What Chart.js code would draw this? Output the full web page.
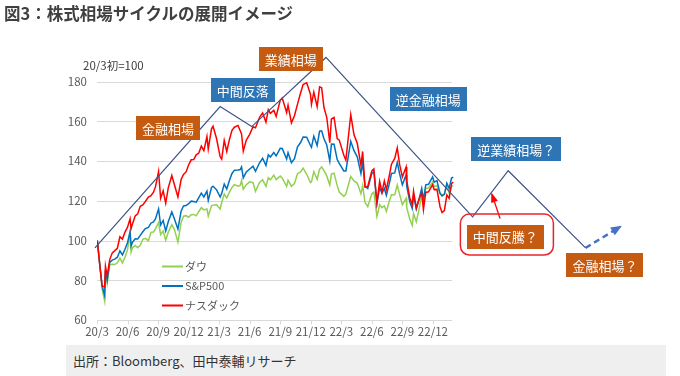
<!DOCTYPE html>
<html lang="ja">
<head>
<meta charset="utf-8">
<script src="https://cdn.jsdelivr.net/npm/chart.js@4.4.0/dist/chart.umd.min.js"></script>
<style>
    body { margin: 0; background: #fff; }
    #wrap { position: relative; width: 680px; height: 376px; overflow: hidden; font-family: "Noto Sans CJK JP", sans-serif; }
    #title { position: absolute; left: 4px; top: 1px; font-size: 16.5px; font-weight: bold; color: #404040; white-space: nowrap; }
    #chart { position: absolute; left: 0; top: 0; }
    #source { position: absolute; left: 66px; top: 345px; width: 600px; height: 31px; background: #efefef; box-sizing: border-box; padding-left: 7px; font-size: 13px; line-height: 31px; color: #333; }
</style>
</head>
<body>
<div id="wrap">
    <canvas id="chart" width="680" height="345"></canvas>
    <div id="title">図3：株式相場サイクルの展開イメージ</div>
    <div id="source">出所：Bloomberg、田中泰輔リサーチ</div>
</div>
<script>
// 横軸：20/3初からの経過月
const months = [0.03, 0.25, 0.5, 0.75, 0.83, 1.0, 1.25, 1.5, 1.75, 2.0, 2.25, 2.5, 2.75, 3.0, 3.25, 3.35, 3.5, 3.75,
    4.0, 4.25, 4.5, 4.75, 5.05, 5.3, 5.55, 5.75, 6.05, 6.25, 6.5, 6.75, 7.0, 7.35, 7.6, 7.95, 8.27, 8.5, 8.75,
    9.0, 9.25, 9.5, 9.75, 10.0, 10.25, 10.5, 10.8, 10.93, 11.25, 11.4, 11.75, 12.1, 12.25, 12.5, 12.75,
    13.0, 13.25, 13.5, 13.85, 14.07, 14.2, 14.37, 14.67, 15.0, 15.33, 15.57, 15.97, 16.27, 16.6, 16.83,
    17.03, 17.37, 17.6, 18.0, 18.2, 18.63, 18.77, 19.1, 19.4, 19.7, 20.0, 20.25, 20.6, 20.97, 21.07, 21.3,
    21.63, 21.87, 22.07, 22.3, 22.57, 22.87, 23.03, 23.29, 23.6, 23.8, 24.25, 24.45, 24.93, 25.25, 25.57,
    25.93, 26.1, 26.33, 26.6, 27.0, 27.2, 27.5, 27.77, 28.0, 28.23, 28.43, 28.7, 28.93, 29.25, 29.5, 29.73,
    30.0, 30.37, 30.43, 30.73, 30.97, 31.1, 31.37, 31.67, 31.9, 32.07, 32.3, 32.57, 32.97, 33.13, 33.4,
    33.7, 33.9, 34.13, 34.37, 34.6, 34.83, 35.0];

const dow = [100, 89.3, 75.6, 69.6, 84.5, 78.4, 87.8, 88.0, 87.9, 88.8, 91.1, 88.7, 91.6, 95.4, 103.3, 94.1, 96.5, 97.5,
    96.4, 97.6, 100.6, 101.1, 99.9, 104.1, 104.3, 106.0, 109.0, 103.0, 104.8, 100.2, 104.2, 108.0, 105.6, 99.2, 109.2, 112.2, 112.5,
    111.7, 113.0, 113.1, 112.4, 114.6, 116.5, 115.4, 115.9, 112.3, 117.5, 117.8, 118.0, 115.8, 119.1, 123.4, 121.4,
    124.2, 126.6, 128.1, 127.3, 127.7, 130.2, 125.8, 128.1, 129.5, 129.1, 124.7, 129.2, 130.6, 127.2, 131.6,
    130.5, 132.9, 130.7, 132.4, 131.4, 127.2, 130.3, 127.3, 128.7, 133.6, 134.5, 136.4, 133.3, 129.1, 129.5, 134.7,
    130.8, 135.9, 137.0, 135.1, 132.5, 127.9, 133.4, 133.9, 127.6, 124.4, 122.2, 123.4, 132.2, 130.0, 128.9,
    123.5, 127.6, 119.2, 117.0, 123.5, 124.3, 112.1, 118.0, 116.5, 117.4, 114.7, 119.5, 123.0, 123.0, 127.9, 123.2,
    118.0, 121.3, 116.5, 110.8, 107.6, 113.5, 109.4, 116.4, 123.1, 119.8, 126.3, 126.4, 129.5, 127.1, 127.7,
    123.7, 123.1, 123.3, 128.0, 123.7, 127.1, 127.6];

const sp500 = [100, 88.9, 77.2, 72.4, 85.1, 79.9, 89.0, 90.1, 90.6, 91.6, 94.8, 92.7, 95.6, 98.9, 104.6, 97.2, 99.2, 100.9,
    100.8, 102.6, 104.4, 106.0, 106.6, 108.7, 109.4, 111.0, 115.9, 107.8, 110.1, 104.8, 109.4, 114.4, 110.9, 105.8, 114.9, 117.4, 117.6,
    118.5, 119.8, 119.6, 119.3, 121.6, 123.8, 121.9, 124.8, 120.2, 126.7, 127.3, 125.5, 121.9, 123.7, 128.4, 125.9,
    130.1, 133.6, 135.4, 135.5, 135.7, 137.0, 131.5, 134.5, 136.0, 137.4, 134.8, 139.1, 141.4, 137.8, 143.1,
    142.0, 144.3, 142.6, 146.4, 146.3, 141.0, 144.2, 139.2, 141.2, 147.1, 149.3, 152.1, 152.0, 147.8, 146.9, 152.5,
    147.8, 155.0, 155.2, 151.2, 148.1, 140.0, 148.5, 148.4, 140.7, 138.8, 135.0, 135.0, 149.9, 145.2, 142.1,
    133.7, 139.2, 127.3, 126.2, 133.7, 134.6, 118.7, 126.6, 123.8, 126.2, 122.7, 128.2, 133.7, 134.0, 139.3, 133.6,
    128.0, 133.0, 127.3, 119.5, 116.1, 122.7, 115.8, 121.4, 126.2, 120.4, 128.0, 128.3, 132.0, 129.4, 130.1,
    123.7, 122.4, 123.2, 128.9, 126.2, 131.4, 131.9];

const nasdaq = [100, 88.8, 77.1, 76.6, 87.1, 82.2, 90.4, 93.8, 94.9, 96.1, 101.9, 100.7, 104.2, 106.7, 110.9, 106.0, 108.6, 112.3,
    113.4, 117.2, 117.9, 119.6, 121.8, 122.5, 124.3, 127.1, 134.7, 121.2, 125.0, 118.8, 126.5, 132.7, 128.2, 121.9, 130.8, 133.2, 134.5,
    138.0, 140.6, 140.7, 143.1, 144.0, 147.5, 145.2, 152.3, 146.0, 156.2, 157.5, 151.2, 142.1, 140.9, 150.4, 144.8,
    150.6, 155.3, 157.0, 157.9, 155.2, 153.6, 144.9, 150.5, 153.4, 157.2, 156.7, 162.0, 164.2, 159.5, 165.8,
    164.0, 165.5, 162.4, 170.5, 171.7, 164.4, 168.1, 159.2, 162.8, 168.6, 174.2, 178.5, 179.4, 173.6, 168.5, 174.6,
    167.3, 177.3, 176.9, 166.9, 162.0, 149.2, 161.1, 161.9, 151.3, 150.5, 142.9, 140.5, 163.3, 153.2, 148.9,
    137.8, 144.8, 126.9, 127.2, 135.0, 136.0, 118.9, 129.7, 124.3, 130.0, 125.6, 132.2, 138.4, 141.3, 146.6, 138.3,
    132.0, 137.0, 130.0, 121.4, 118.1, 124.8, 116.4, 121.3, 124.0, 115.5, 124.2, 124.5, 128.1, 125.6, 125.7,
    117.0, 114.1, 115.1, 122.9, 121.2, 128.6, 129.4];

const xTickValues = [0, 3, 6, 9, 12, 15, 18, 21, 24, 27, 30, 33];
const xTickLabels = ['20/3', '20/6', '20/9', '20/12', '21/3', '21/6', '21/9', '21/12', '22/3', '22/6', '22/9', '22/12'];
const yTickValues = [60, 80, 100, 120, 140, 160, 180];

// 相場サイクルのイメージ線
const cycleX = [-0.2, 12.1, 15.2, 22.5, 36.9, 40.4, 48.0];
const cycleY = [96.3, 167.4, 157.3, 192.1, 111.9, 135.1, 96.3];
const nextX = [48.0, 51.4];
const nextY = [96.3, 106.9];
const arrowX = [39.6, 38.8];
const arrowY = [111.1, 123.2];

// 吹き出しラベル
const boxLabels = ['金融相場', '中間反落', '業績相場', '逆金融相場', '逆業績相場？', '中間反騰？', '金融相場？'];
const boxX = [6.98, 14.31, 19.03, 32.55, 41.2, 40.12, 49.9];
const boxY = [156.4, 175.7, 191.1, 171.4, 145.8, 102.0, 87.7];
const boxKind = ['orange', 'blue', 'orange', 'blue', 'blue', 'orange', 'orange'];

const FONT = '"Noto Sans CJK JP", sans-serif';
Chart.defaults.font.family = FONT;

function toPoints(xs, ys) {
    return xs.map((v, i) => ({ x: v, y: ys[i] }));
}

// 矢印の先端
function drawHead(ctx, x0, y0, x1, y1, len, wid, color) {
    const a = Math.atan2(y1 - y0, x1 - x0);
    ctx.save();
    ctx.translate(x1, y1);
    ctx.rotate(a);
    ctx.fillStyle = color;
    ctx.beginPath();
    ctx.moveTo(2, 0);
    ctx.lineTo(-len, -wid / 2);
    ctx.lineTo(-len, wid / 2);
    ctx.closePath();
    ctx.fill();
    ctx.restore();
}

function roundRectPath(ctx, x, y, w, h, r) {
    ctx.beginPath();
    ctx.moveTo(x + r, y);
    ctx.arcTo(x + w, y, x + w, y + h, r);
    ctx.arcTo(x + w, y + h, x, y + h, r);
    ctx.arcTo(x, y + h, x, y, r);
    ctx.arcTo(x, y, x + w, y, r);
    ctx.closePath();
}

// 罫線（データ期間だけに引く）
const gridPlugin = {
    id: 'gridLines',
    beforeDatasetsDraw(chart) {
        const { ctx, scales: { x, y } } = chart;
        const left = x.getPixelForValue(0);
        const right = x.getPixelForValue(34.9);
        ctx.save();
        ctx.strokeStyle = '#d9d9d9';
        ctx.lineWidth = 1;
        yTickValues.forEach(v => {
            const py = Math.round(y.getPixelForValue(v)) + 0.5;
            ctx.beginPath();
            ctx.moveTo(left, py);
            ctx.lineTo(right, py);
            ctx.stroke();
        });
        const base = Math.round(y.getPixelForValue(60)) + 0.5;
        xTickValues.forEach(v => {
            const px = Math.round(x.getPixelForValue(v)) + 0.5;
            ctx.beginPath();
            ctx.moveTo(px, base);
            ctx.lineTo(px, base + 4);
            ctx.stroke();
        });
        ctx.restore();
    }
};

const overlayPlugin = {
    id: 'overlay',
    afterDatasetsDraw(chart) {
        const { ctx, scales: { x, y } } = chart;
        ctx.save();

        // 単位
        ctx.fillStyle = '#404040';
        ctx.font = '11.5px ' + FONT;
        ctx.textAlign = 'left';
        ctx.textBaseline = 'middle';
        ctx.fillText('20/3初=100', chart.chartArea.left - 14, y.getPixelForValue(180) - 16);

        // 凡例
        const legendRows = [
            { text: 'ダウ', color: '#92d050' },
            { text: 'S&P500', color: '#0070c0' },
            { text: 'ナスダック', color: '#ff0000' }
        ];
        ctx.font = '11px ' + FONT;
        legendRows.forEach((row, i) => {
            const ly = 266.5 + i * 19.5;
            ctx.strokeStyle = row.color;
            ctx.lineWidth = 2;
            ctx.beginPath();
            ctx.moveTo(162, ly);
            ctx.lineTo(183, ly);
            ctx.stroke();
            ctx.fillStyle = '#595959';
            ctx.fillText(row.text, 185, ly);
        });

        // 矢印の先
        const n0x = x.getPixelForValue(nextX[0]), n0y = y.getPixelForValue(nextY[0]);
        const n1x = x.getPixelForValue(nextX[1]), n1y = y.getPixelForValue(nextY[1]);
        drawHead(ctx, n0x, n0y, n1x, n1y, 9, 9, '#4472c4');
        const a0x = x.getPixelForValue(arrowX[0]), a0y = y.getPixelForValue(arrowY[0]);
        const a1x = x.getPixelForValue(arrowX[1]), a1y = y.getPixelForValue(arrowY[1]);
        drawHead(ctx, a0x, a0y, a1x, a1y, 8, 7, '#ff0000');

        // 中間反騰？の赤枠
        const fx = x.getPixelForValue(40.27), fy = y.getPixelForValue(103.0);
        ctx.strokeStyle = '#e8242b';
        ctx.lineWidth = 1.5;
        roundRectPath(ctx, fx - 46.5, fy - 20.5, 93, 41, 9);
        ctx.stroke();

        // ラベルの箱
        ctx.font = '13px ' + FONT;
        ctx.textAlign = 'center';
        boxLabels.forEach((label, i) => {
            const cx = x.getPixelForValue(boxX[i]);
            const cy = y.getPixelForValue(boxY[i]);
            const w = ctx.measureText(label).width + 12;
            const h = 24;
            ctx.fillStyle = boxKind[i] === 'orange' ? '#c55a11' : '#2e75b6';
            ctx.fillRect(Math.round(cx - w / 2), Math.round(cy - h / 2), Math.round(w), h);
            ctx.fillStyle = '#ffffff';
            ctx.fillText(label, cx, cy + 1);
        });

        ctx.restore();
    }
};

new Chart(document.getElementById('chart'), {
    type: 'line',
    data: {
        datasets: [
            { label: 'ナスダック', data: toPoints(months, nasdaq), borderColor: '#ff0000', borderWidth: 1.5, order: 1 },
            { label: 'S&P500', data: toPoints(months, sp500), borderColor: '#0070c0', borderWidth: 1.5, order: 2 },
            { label: 'ダウ', data: toPoints(months, dow), borderColor: '#92d050', borderWidth: 1.5, order: 3 },
            { label: 'cycle', data: toPoints(cycleX, cycleY), borderColor: '#3f5485', borderWidth: 1.2, order: 0, clip: false },
            { label: 'next', data: toPoints(nextX, nextY), borderColor: '#4472c4', borderWidth: 2.5, borderDash: [6, 4], order: 0 },
            { label: 'arrow', data: toPoints(arrowX, arrowY), borderColor: '#ff0000', borderWidth: 1.3, order: 0 }
        ]
    },
    options: {
        responsive: false,
        animation: false,
        devicePixelRatio: 1,
        layout: { padding: { top: 41.75, right: 13, left: 0, bottom: 0 } },
        elements: { point: { radius: 0 }, line: { tension: 0 } },
        plugins: { legend: { display: false }, tooltip: { enabled: false } },
        scales: {
            x: {
                type: 'linear',
                min: 0,
                max: 56,
                grid: { display: false, drawTicks: false },
                border: { display: false },
                afterBuildTicks: s => { s.ticks = xTickValues.map(v => ({ value: v })); },
                afterFit: s => { s.height = 25; },
                ticks: {
                    autoSkip: false, maxRotation: 0, padding: 5, color: '#595959',
                    font: { size: 11.5 },
                    callback: (v, i) => xTickLabels[i]
                }
            },
            y: {
                min: 60,
                max: 200,
                grid: { display: false, drawTicks: false },
                border: { display: false },
                afterBuildTicks: s => { s.ticks = yTickValues.map(v => ({ value: v })); },
                afterFit: s => { s.width = 97; },
                ticks: { padding: 10, color: '#595959', font: { size: 11.5 } }
            }
        }
    },
    plugins: [gridPlugin, overlayPlugin]
});
</script>
</body>
</html>
